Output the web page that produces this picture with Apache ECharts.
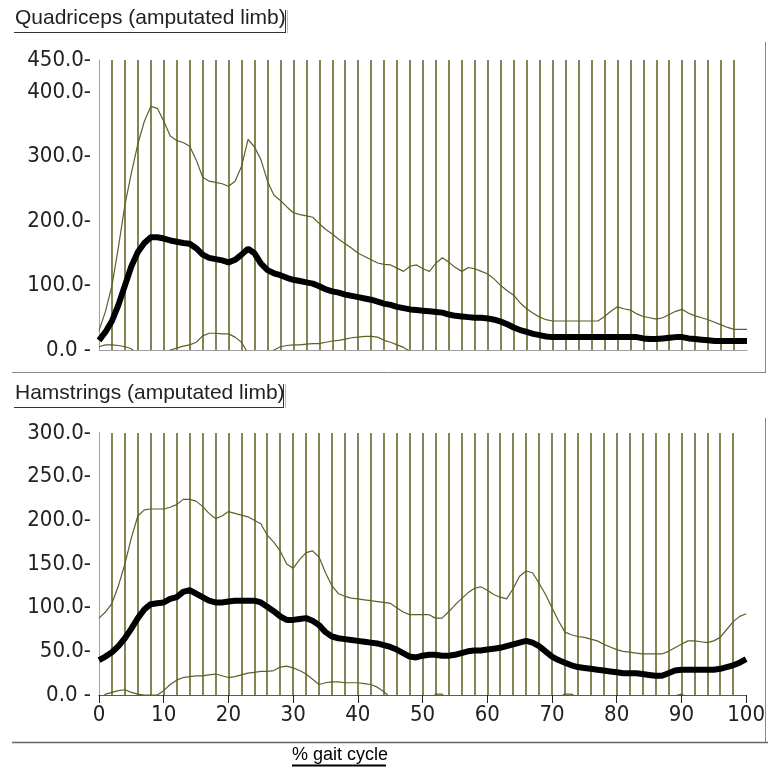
<!DOCTYPE html>
<html><head><meta charset="utf-8">
<script src="https://cdn.jsdelivr.net/npm/echarts@6/dist/echarts.min.js"></script>
<style>html,body{margin:0;padding:0;background:#fff}#c{width:768px;height:767px}</style>
</head><body><div id="c"></div>
<script>
// % gait cycle sample positions (1% steps)
const pct = Array.from({length: 101}, (_, i) => i);
// vertical guide lines (% gait cycle)
const guideX = [2,4,6,8,10,12,14,16,18,20,22,24,26,28,30,32,34,36,38,40,42,44,46,48,50,
                52,54,56,58,60,62,64,66,68,70,72,74,76,78,80,82,84,86,88,90,92,94,96,98];
const xTicks = [0,10,20,30,40,50,60,70,80,90,100];
const qTicks = [0,100,200,300,400,450];
const hTicks = [0,50,100,150,200,250,300];

// Quadriceps (amputated limb)
const qMean = [15,28,45,70,100,130,152,166,175,175,173,170,168,166,165,158,148,143,141,139,
  136,140,148,157,150,134,124,119,116,112,109,107,105,103,99,94,91,89,86,84,
  82,80,78,75,72,70,67,65,63,62,61,60,59,58,55,53,52,51,50,50,
  49,47,44,40,35,31,28,25,23,21,20,20,20,20,20,20,20,20,20,20,
  20,20,20,20,18,17,17,18,19,20,20,18,17,16,15,14,14,14,14,14,14];
const qUpper = [30,60,100,160,225,275,320,355,378,375,355,332,325,322,316,295,268,262,260,258,
  254,262,285,327,315,295,262,240,232,222,213,210,208,206,196,187,180,172,165,158,
  150,145,140,135,133,132,127,122,130,132,126,122,135,143,136,128,122,128,126,122,
  118,110,100,92,85,73,64,57,51,47,45,45,45,45,45,45,45,45,52,60,
  67,64,62,56,52,50,48,50,55,60,63,57,53,50,47,43,39,35,32,32,32];
const qLower = [5,8,8,7,5,2,-10,-20,-20,-20,-20,0,3,6,8,12,22,26,26,25,
  25,20,12,-5,-20,-20,-20,0,5,7,8,8,9,10,10,12,14,15,17,19,
  20,21,21,20,15,12,8,4,-2,-10,-10,-10,-10,-10,-10,-10,-10,-10,-10,-10,
  -10,-10,-10,-10,-10,-10,-10,-10,-10,-10,-10,-10,-10,-10,-10,-10,-10,-10,-10,-10,
  -10,-10,-10,-10,-10,-10,-10,-10,-10,-10,-10,-10,-10,-10,-10,-10,-10,-10,-10,-10,-10];

// Hamstrings (amputated limb)
const hMean = [40,44,49,56,65,76,88,98,104,105,106,110,112,118,120,116,112,108,106,106,
  107,108,108,108,108,106,101,96,90,86,86,87,88,85,80,72,67,65,64,63,
  62,61,60,59,57,55,52,48,44,43,45,46,46,45,45,46,48,50,51,51,
  52,53,54,56,58,60,62,60,56,50,44,40,37,34,32,31,30,29,28,27,
  26,25,25,25,24,23,22,22,25,28,29,29,29,29,29,29,30,32,34,37,41];
const hUpper = [88,95,105,125,150,180,205,212,213,213,213,215,218,224,224,222,216,208,202,205,
  210,208,206,204,200,196,183,175,165,150,145,155,163,165,158,140,125,116,113,111,
  110,109,108,107,106,105,100,95,92,92,92,92,88,88,95,103,110,117,122,124,
  120,115,112,110,122,136,142,140,128,115,100,85,72,69,67,66,64,62,58,55,
  52,50,49,48,47,47,47,47,50,54,58,62,62,61,60,62,66,75,84,90,93];
const hLower = [-5,1,3,5,6,3,1,0,0,0,5,12,17,20,21,22,22,23,24,22,
  20,21,23,25,26,27,27,28,32,33,31,28,24,18,12,14,15,15,14,14,
  14,13,12,9,4,-3,-10,-10,-10,-10,-10,-10,1,1,-5,-10,-10,-10,-10,-10,
  -10,-10,-10,-10,-10,-10,-10,-10,-10,-10,-5,-3,1,1,-3,-10,-10,-10,-10,-10,
  -10,-10,-10,-10,-10,-10,-10,-10,-3,-1,1,-3,-10,-10,-10,-10,-10,-10,-10,-10,-10];

const OLIVE = '#5f5f28';
const GUIDE = '#66662a';
const FRAME = '#a0a0a0';
const AXFONT = "'Liberation Sans Narrow','DejaVu Sans Condensed',sans-serif";
const TFONT = "'Liberation Sans',Arial,sans-serif";

const pairs = arr => arr.map((v, i) => [pct[i], v]);
const fmt = v => (v === 0 ? '0.0 -' : v.toFixed(1) + '-');

const chart = echarts.init(document.getElementById('c'), null, {renderer: 'canvas'});

function hidden(extra) {
  return Object.assign({
    type: 'value', min: 0, max: 100, axisLine: {show: false}, axisTick: {show: false},
    axisLabel: {show: false}, splitLine: {show: false}
  }, extra);
}

const option = {
  animation: false,
  backgroundColor: '#fff',
  grid: [
    {left: 99, top: 60, width: 648, height: 290},
    {left: 99, top: 433, width: 648, height: 262}
  ],
  xAxis: [
    hidden({gridIndex: 0, position: 'bottom'}),
    hidden({gridIndex: 0, position: 'top', axisLine: {show: true, lineStyle: {color: FRAME, width: 1}}}),
    hidden({gridIndex: 1, position: 'bottom', axisLine: {show: true, lineStyle: {color: FRAME, width: 1}}}),
    hidden({gridIndex: 1, position: 'top', axisLine: {show: true, lineStyle: {color: OLIVE, width: 1}}}),
    hidden({gridIndex: 1, position: 'bottom', offset: 4,
      axisTick: {show: true, customValues: xTicks, length: 8, lineStyle: {color: '#222', width: 1}},
      axisLabel: {show: true, customValues: xTicks, margin: 5, color: '#222', fontFamily: AXFONT, fontSize: 22}})
  ],
  yAxis: [
    hidden({gridIndex: 0, min: 0, max: 450, position: 'left', axisLine: {show: true, lineStyle: {color: FRAME, width: 1}}}),
    hidden({gridIndex: 0, min: 0, max: 450, position: 'left', offset: 8,
      axisLabel: {show: true, customValues: qTicks, formatter: fmt, margin: 0, color: '#222', fontFamily: AXFONT, fontSize: 22}}),
    hidden({gridIndex: 1, min: 0, max: 300, position: 'left', axisLine: {show: true, lineStyle: {color: OLIVE, width: 1}}}),
    hidden({gridIndex: 1, min: 0, max: 300, position: 'right', axisLine: {show: true, lineStyle: {color: FRAME, width: 1}}}),
    hidden({gridIndex: 1, min: 0, max: 300, position: 'left', offset: 8,
      axisLabel: {show: true, customValues: hTicks, formatter: fmt, margin: 0, color: '#222', fontFamily: AXFONT, fontSize: 22}})
  ],
  series: [
    {type: 'line', xAxisIndex: 0, yAxisIndex: 0, data: pairs(qMean), showSymbol: false, z: 1,
     lineStyle: {opacity: 0}, silent: true,
     markLine: {silent: true, symbol: ['none', 'none'], label: {show: false},
       lineStyle: {color: GUIDE, width: 1.6, type: 'solid'}, data: guideX.map(x => ({xAxis: x}))}},
    {type: 'line', xAxisIndex: 2, yAxisIndex: 2, data: pairs(hMean), showSymbol: false, z: 1,
     lineStyle: {opacity: 0}, silent: true,
     markLine: {silent: true, symbol: ['none', 'none'], label: {show: false},
       lineStyle: {color: GUIDE, width: 1.6, type: 'solid'}, data: guideX.map(x => ({xAxis: x}))}},
    {type: 'line', xAxisIndex: 0, yAxisIndex: 0, data: pairs(qUpper), showSymbol: false, z: 5, clip: true,
     lineStyle: {color: OLIVE, width: 1.2}},
    {type: 'line', xAxisIndex: 0, yAxisIndex: 0, data: pairs(qLower), showSymbol: false, z: 5, clip: true,
     lineStyle: {color: OLIVE, width: 1.2}},
    {type: 'line', xAxisIndex: 0, yAxisIndex: 0, data: pairs(qMean), showSymbol: false, z: 6, clip: true,
     lineStyle: {color: '#000', width: 6}},
    {type: 'line', xAxisIndex: 2, yAxisIndex: 2, data: pairs(hUpper), showSymbol: false, z: 5, clip: true,
     lineStyle: {color: OLIVE, width: 1.2}},
    {type: 'line', xAxisIndex: 2, yAxisIndex: 2, data: pairs(hLower), showSymbol: false, z: 5, clip: true,
     lineStyle: {color: OLIVE, width: 1.2}},
    {type: 'line', xAxisIndex: 2, yAxisIndex: 2, data: pairs(hMean), showSymbol: false, z: 6, clip: true,
     lineStyle: {color: '#000', width: 6}}
  ],
  graphic: [
    {type: 'text', left: 15, top: 8, style: {text: 'Quadriceps (amputated limb)', fill: '#222', font: '21px ' + TFONT}},
    {type: 'line', shape: {x1: 14, y1: 32.5, x2: 285, y2: 32.5}, style: {stroke: '#333', lineWidth: 1}},
    {type: 'line', shape: {x1: 285.5, y1: 10, x2: 285.5, y2: 33}, style: {stroke: '#333', lineWidth: 1}},
    {type: 'line', shape: {x1: 287.5, y1: 10, x2: 287.5, y2: 33}, style: {stroke: '#bbb', lineWidth: 1}},
    {type: 'line', shape: {x1: 12, y1: 372.5, x2: 765, y2: 372.5}, style: {stroke: '#888', lineWidth: 1}},
    {type: 'line', shape: {x1: 765.5, y1: 42, x2: 765.5, y2: 373}, style: {stroke: '#888', lineWidth: 1}},
    {type: 'text', left: 15, top: 383, style: {text: 'Hamstrings (amputated limb)', fill: '#222', font: '21px ' + TFONT}},
    {type: 'line', shape: {x1: 14, y1: 407.5, x2: 283, y2: 407.5}, style: {stroke: '#333', lineWidth: 1}},
    {type: 'line', shape: {x1: 283.5, y1: 384, x2: 283.5, y2: 408}, style: {stroke: '#333', lineWidth: 1}},
    {type: 'line', shape: {x1: 285.5, y1: 384, x2: 285.5, y2: 408}, style: {stroke: '#bbb', lineWidth: 1}},
    {type: 'line', shape: {x1: 12, y1: 742.5, x2: 768, y2: 742.5}, style: {stroke: '#666', lineWidth: 1.5}},
    {type: 'line', shape: {x1: 765.5, y1: 418, x2: 765.5, y2: 742}, style: {stroke: '#888', lineWidth: 1}},
    {type: 'text', left: 292, top: 746, style: {text: '% gait cycle', fill: '#000', font: '18px ' + TFONT}},
    {type: 'line', shape: {x1: 292, y1: 765.5, x2: 386, y2: 765.5}, style: {stroke: '#000', lineWidth: 2}}
  ]
};
chart.setOption(option);
</script></body></html>
